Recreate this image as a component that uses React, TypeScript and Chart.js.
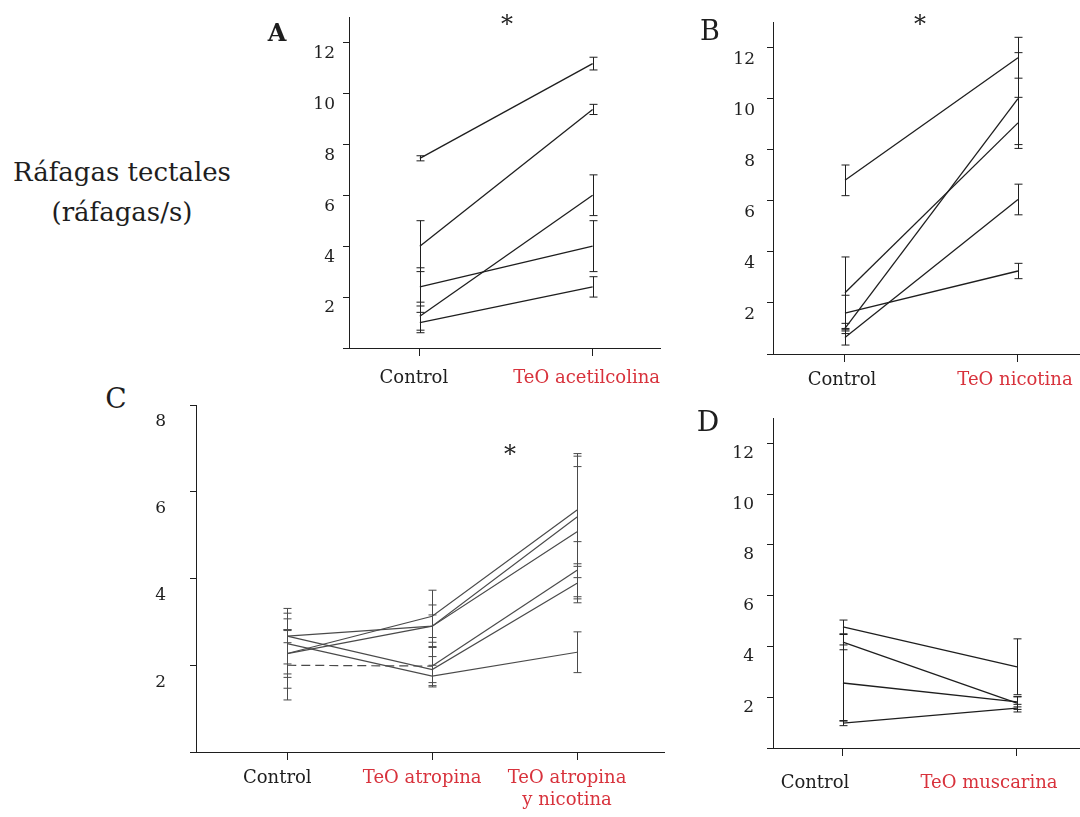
import React, { useEffect, useRef } from 'react';
import { Chart, registerables } from 'chart.js';

Chart.register(...registerables);

const RED = '#d8323c';
const INK = '#1e1e1e';
const FONT = "'DejaVu Serif', 'Liberation Serif', serif";

// ---- Panel A ----
const categoriesA = ['Control', 'TeO acetilcolina'];
const valuesA = [
  [7.45, 11.17],
  [4.0, 9.37],
  [1.25, 6.0],
  [2.4, 4.0],
  [1.0, 2.4],
];
const errorsA = [
  [0.1, 0.25],
  [1.0, 0.2],
  [0.55, 0.8],
  [0.75, 1.0],
  [0.4, 0.4],
];

// ---- Panel B ----
const categoriesB = ['Control', 'TeO nicotina'];
const valuesB = [
  [6.8, 11.6],
  [2.4, 9.05],
  [1.6, 3.25],
  [1.0, 10.0],
  [0.65, 6.05],
];
const errorsB = [
  [0.6, 0.8],
  [1.4, 1.0],
  [0.7, 0.3],
  [0.2, 1.8],
  [0.3, 0.6],
];

// ---- Panel C ----
const categoriesC = [['Control'], ['TeO atropina'], ['TeO atropina', 'y nicotina']];
const valuesC = [
  [2.67, 2.9, 5.42],
  [2.27, 3.13, 5.58],
  [2.27, 2.9, 5.08],
  [2.67, 1.9, 3.89],
  [2.5, 1.75, 2.3],
  [2.0, 1.98, 4.19],
];
const errorsC = [
  [0.64, 0.49, 1.4],
  [0.55, 0.6, 1.3],
  [0.8, 0.26, 1.5],
  [0.15, 0.3, 0.45],
  [0.7, 0.25, 0.47],
  [0.8, 0.45, 0.66],
];
const dashedSegmentC = [-1, -1, -1, -1, -1, 0];

// ---- Panel D ----
const categoriesD = ['Control', 'TeO muscarina'];
const valuesD = [
  [4.77, 3.2],
  [4.17, 1.77],
  [2.56, 1.82],
  [0.98, 1.57],
];
const errorsD = [
  [0.27, 1.1],
  [0.3, 0.25],
  [1.5, 0.2],
  [0.1, 0.15],
];

const yTicksABD = [0, 2, 4, 6, 8, 10, 12];
const yTicksC = [0, 2, 4, 6, 8];

const errorBarPlugin = {
  id: 'errorBars',
  afterDatasetsDraw(chart: any) {
    const ctx = chart.ctx;
    const xs = chart.scales.x;
    const ys = chart.scales.y;
    ctx.save();
    chart.data.datasets.forEach((ds: any) => {
      const errs: number[] = ds.errors || [];
      ctx.strokeStyle = ds.borderColor;
      ctx.lineWidth = 1;
      ds.data.forEach((p: any, j: number) => {
        const e = errs[j];
        if (!e) return;
        const px = Math.round(xs.getPixelForValue(p.x)) + 0.5;
        const yHi = ys.getPixelForValue(p.y + e);
        const yLo = ys.getPixelForValue(p.y - e);
        ctx.beginPath();
        ctx.moveTo(px, yHi);
        ctx.lineTo(px, yLo);
        ctx.moveTo(px - 4, yHi);
        ctx.lineTo(px + 4, yHi);
        ctx.moveTo(px - 4, yLo);
        ctx.lineTo(px + 4, yLo);
        ctx.stroke();
      });
    });
    ctx.restore();
  },
};

type PanelProps = {
  left: number;
  top: number;
  width: number;
  height: number;
  yAxisWidth: number;
  xAxisHeight: number;
  padTop: number;
  padRight: number;
  xMin: number;
  xMax: number;
  yMax: number;
  yTicks: number[];
  categories: (string | string[])[];
  values: number[][];
  errors: number[][];
  dashed?: number[];
  lineColor: string;
  lineWidth: number;
  labelOffset: number;
  xLabelOffset: number;
  xPad: number;
  yPad: number;
};

function Panel(props: PanelProps) {
  const ref = useRef<HTMLCanvasElement>(null);
  useEffect(() => {
    if (!ref.current) return;
    const p = props;
    const datasets = p.values.map((series, i) => ({
      data: series.map((v, j) => ({ x: j, y: v })),
      errors: p.errors[i],
      borderColor: p.lineColor,
      borderWidth: p.lineWidth,
      pointRadius: 0,
      tension: 0,
      fill: false,
      segment: {
        borderDash: (c: any) =>
          p.dashed && p.dashed[i] === c.p0DataIndex ? [9, 5] : undefined,
      },
    }));
    const chart = new Chart(ref.current, {
      type: 'line',
      data: { datasets } as any,
      plugins: [errorBarPlugin],
      options: {
        animation: false,
        responsive: false,
        devicePixelRatio: 1,
        layout: {
          autoPadding: false,
          padding: { top: p.padTop, right: p.padRight, left: 0, bottom: 0 },
        },
        plugins: { legend: { display: false }, tooltip: { enabled: false } },
        scales: {
          x: {
            type: 'linear',
            min: p.xMin,
            max: p.xMax,
            afterBuildTicks: (s: any) => {
              s.ticks = p.categories.map((_, i) => ({ value: i }));
            },
            afterFit: (s: any) => {
              s.height = p.xAxisHeight;
              s.paddingLeft = 0;
              s.paddingRight = 0;
            },
            ticks: {
              autoSkip: false,
              maxRotation: 0,
              padding: p.xPad,
              labelOffset: p.xLabelOffset,
              font: { family: FONT, size: 18 },
              color: (c: any) => (c.index === 0 ? INK : RED),
              callback: (v: any) => p.categories[Math.round(v)],
            },
            grid: {
              display: true,
              drawOnChartArea: false,
              drawTicks: true,
              tickLength: 8,
              color: INK,
              lineWidth: 1,
            },
            border: { display: true, color: INK, width: 1 },
          },
          y: {
            type: 'linear',
            min: 0,
            max: p.yMax,
            afterBuildTicks: (s: any) => {
              s.ticks = p.yTicks.map((v) => ({ value: v }));
            },
            afterFit: (s: any) => {
              s.width = p.yAxisWidth;
              s.paddingTop = 0;
              s.paddingBottom = 0;
            },
            ticks: {
              autoSkip: false,
              padding: p.yPad,
              labelOffset: p.labelOffset,
              font: { family: FONT, size: 17 },
              color: INK,
              callback: (v: any) => (v === 0 ? '' : String(v)),
            },
            grid: {
              display: true,
              drawOnChartArea: false,
              drawTicks: true,
              tickLength: 6,
              color: INK,
              lineWidth: 1,
            },
            border: { display: true, color: INK, width: 1 },
          },
        },
      } as any,
    });
    return () => chart.destroy();
  }, []);
  return (
    <canvas
      ref={ref}
      width={props.width}
      height={props.height}
      style={{
        position: 'absolute',
        left: props.left,
        top: props.top,
        width: props.width,
        height: props.height,
      }}
    />
  );
}

function Label(props: {
  x: number;
  y: number;
  text: string;
  size: number;
  bold?: boolean;
}) {
  return (
    <div
      style={{
        position: 'absolute',
        left: props.x,
        top: props.y,
        transform: 'translate(-50%, -50%)',
        fontFamily: FONT,
        fontSize: props.size,
        fontWeight: props.bold ? 'bold' : 'normal',
        lineHeight: 1,
        color: INK,
        whiteSpace: 'nowrap',
      }}
    >
      {props.text}
    </div>
  );
}

export default function App() {
  return (
    <div
      style={{
        position: 'absolute',
        left: 0,
        top: 0,
        width: 1080,
        height: 817,
        background: '#fff',
        overflow: 'hidden',
      }}
    >
      <Panel
        left={280}
        top={0}
        width={440}
        height={400}
        yAxisWidth={69}
        xAxisHeight={52}
        padTop={17}
        padRight={60}
        xMin={-0.41}
        xMax={1.39}
        yMax={13}
        yTicks={yTicksABD}
        categories={categoriesA}
        values={valuesA}
        errors={errorsA}
        lineColor={INK}
        lineWidth={1.3}
        labelOffset={11}
        xLabelOffset={-6}
        xPad={12}
        yPad={8}
      />
      <Panel
        left={700}
        top={0}
        width={550}
        height={400}
        yAxisWidth={73}
        xAxisHeight={46}
        padTop={22}
        padRight={150}
        xMin={-0.416}
        xMax={1.474}
        yMax={13}
        yTicks={yTicksABD}
        categories={categoriesB}
        values={valuesB}
        errors={errorsB}
        lineColor={INK}
        lineWidth={1.3}
        labelOffset={12}
        xLabelOffset={-3}
        xPad={8}
        yPad={12}
      />
      <Panel
        left={130}
        top={395}
        width={545}
        height={422}
        yAxisWidth={66}
        xAxisHeight={65}
        padTop={10}
        padRight={11}
        xMin={-0.63}
        xMax={2.6}
        yMax={8}
        yTicks={yTicksC}
        categories={categoriesC}
        values={valuesC}
        errors={errorsC}
        dashed={dashedSegmentC}
        lineColor={'#4a4a4a'}
        lineWidth={1.2}
        labelOffset={17}
        xLabelOffset={-10}
        xPad={8}
        yPad={24}
      />
      <Panel
        left={700}
        top={400}
        width={550}
        height={417}
        yAxisWidth={73}
        xAxisHeight={69}
        padTop={18}
        padRight={150}
        xMin={-0.402}
        xMax={1.477}
        yMax={13}
        yTicks={yTicksABD}
        categories={categoriesD}
        values={valuesD}
        errors={errorsD}
        lineColor={INK}
        lineWidth={1.3}
        labelOffset={10}
        xLabelOffset={-28}
        xPad={17}
        yPad={13}
      />
      <Label x={122} y={172} text="Ráfagas tectales" size={26} />
      <Label x={122} y={212} text="(ráfagas/s)" size={26} />
      <Label x={277} y={33} text="A" size={24} bold />
      <Label x={710} y={30} text="B" size={27} />
      <Label x={116} y={399} text="C" size={28} />
      <Label x={708} y={422} text="D" size={28} />
      <Label x={507} y={24} text="*" size={24} />
      <Label x={920} y={24} text="*" size={24} />
      <Label x={510} y={454} text="*" size={24} />
    </div>
  );
}
